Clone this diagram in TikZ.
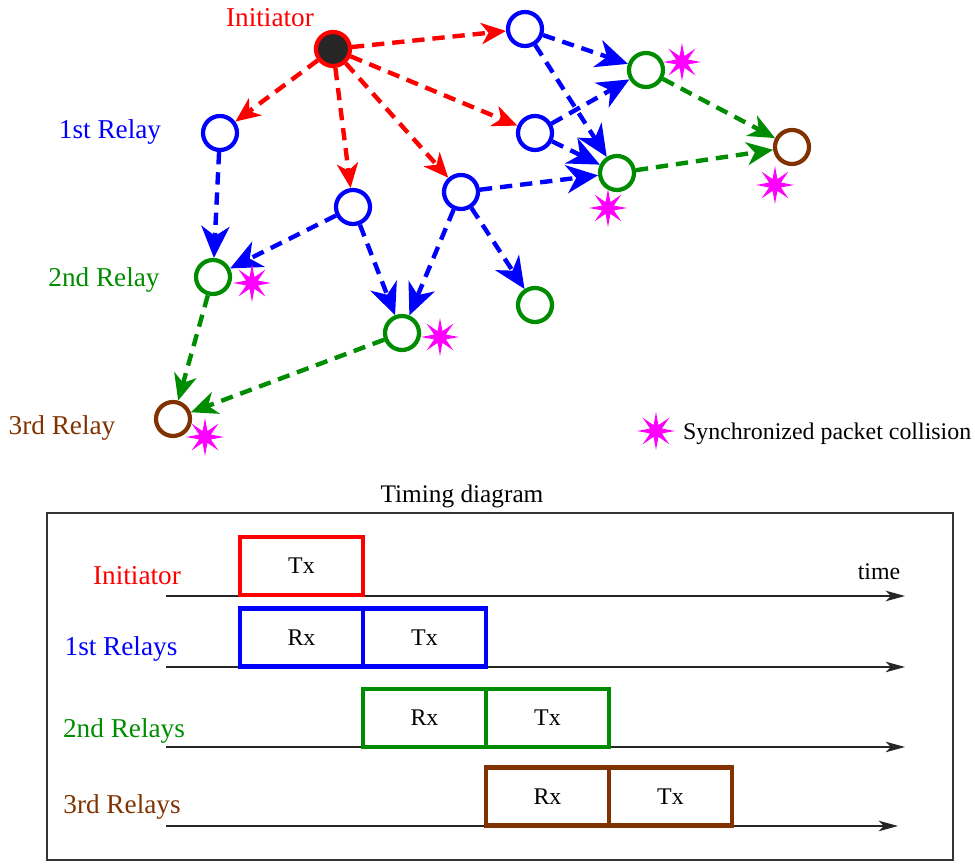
\documentclass[tikz,border=0pt]{standalone}
\usepackage{fontspec}
\setmainfont{Liberation Serif}
\usetikzlibrary{arrows.meta,shapes.geometric}
\definecolor{relgreen}{RGB}{0,140,0}
\definecolor{relbrown}{RGB}{128,51,0}
\definecolor{clashpink}{RGB}{255,0,255}
\tikzset{
	relay/.style={circle, draw=#1, line width=2.4pt, minimum size=0.68cm, inner sep=0pt, fill=white},
	hop/.style={draw=#1, line width=2.5pt, dash pattern=on 7pt off 4.5pt, -{Stealth[length=18pt,width=16pt,inset=5.5pt]}},
	smallhop/.style={hop=#1, -{Stealth[length=14pt,width=12pt,inset=4pt]}},
	midhop/.style={hop=#1, -{Stealth[length=15pt,width=13pt,inset=4.5pt]}},
	clash/.style={star, star points=8, star point ratio=3, fill=clashpink, minimum size=0.76cm, inner sep=0pt},
	slot/.style={draw=#1, line width=2.3pt, minimum width=2.46cm, minimum height=1.16cm, inner sep=0pt, font=\fontsize{13.6}{16}\selectfont},
	biglabel/.style={text=#1, font=\fontsize{15.5}{18}\selectfont, anchor=base},
	smalllabel/.style={font=\fontsize{13.6}{16}\selectfont, anchor=base},
	timeline/.style={black!85, line width=0.7pt, -{Stealth[length=11pt,width=6pt,inset=3pt]}},
}

\begin{document}
\begin{tikzpicture}[x=0.02cm, y=-0.02cm]
			%%%%% START %%%%%
			\useasboundingbox (0,0) rectangle (975,864);
			
			% network
			\node[relay=red, fill=black!85] (init) at (333,49) {};
			\node[relay=blue] (b1) at (525,29) {};
			\node[relay=blue] (b2) at (220,133) {};
			\node[relay=blue] (b3) at (535,133) {};
			\node[relay=blue] (b4) at (353,207) {};
			\node[relay=blue] (b5) at (461,192) {};
			\node[relay=relgreen] (g1) at (646,70) {};
			\node[relay=relgreen] (g2) at (617,173) {};
			\node[relay=relgreen] (g3) at (213,277) {};
			\node[relay=relgreen] (g4) at (402,333) {};
			\node[relay=relgreen] (g5) at (535,305) {};
			\node[relay=relbrown] (r1) at (792,147) {};
			\node[relay=relbrown] (r2) at (173,419) {};
			
			\draw[smallhop=red] (init) -- (b1);
			\draw[smallhop=red] (init) -- (b2);
			\draw[smallhop=red] (init) -- (b3);
			\draw[smallhop=red] (init) -- (b4);
			\draw[smallhop=red] (init) -- (b5);
			
			\draw[hop=blue] (b1) -- (g1);
			\draw[hop=blue] (b1) -- (g2);
			\draw[hop=blue] (b3) -- (g1);
			\draw[hop=blue] (b3) -- (g2);
			\draw[hop=blue] (b5) -- (g2);
			\draw[hop=blue] (b2) -- (g3);
			\draw[hop=blue] (b4) -- (g3);
			\draw[hop=blue] (b4) -- (g4);
			\draw[hop=blue] (b5) -- (g4);
			\draw[hop=blue] (b5) -- (g5);
			
			\draw[midhop=relgreen] (g1) -- (r1);
			\draw[midhop=relgreen] (g2) -- (r1);
			\draw[midhop=relgreen] (g3) -- (r2);
			\draw[midhop=relgreen] (g4) -- (r2);
			
			\node[clash] (c1) at (682,62) {};
			\node[clash] (c2) at (608,208) {};
			\node[clash] (c3) at (775,185) {};
			\node[clash] (c4) at (252,283) {};
			\node[clash] (c5) at (440,337) {};
			\node[clash] (c6) at (205,437) {};
			
			\node[biglabel=red] (linit) at (270,27) {Initiator};
			\node[biglabel=blue] (lfirst) at (110,139) {1st Relay};
			\node[biglabel=relgreen] (lsecond) at (104,287) {2nd Relay};
			\node[biglabel=relbrown] (lthird) at (62,435) {3rd Relay};
			
			% legend
			\node[clash] (ckey) at (656,431) {};
			\node[smalllabel, anchor=base west] (lkey) at (677,440) {Synchronized packet collision};
			
			% timing diagram
			\node[smalllabel, font=\fontsize{14.4}{17}\selectfont] (ttitle) at (462,503) {Timing diagram};
			\draw[line width=0.6pt, black!80] (47,513) rectangle (953,860);
			
			\foreach \y/\e in {596/905, 667/905, 747/905, 826/898}
				\draw[timeline] (166,\y) -- (\e,\y);
			\node[smalllabel] (ltime) at (879,580) {time};
			
			\node[slot=red] (itx) at (301.5,566) {Tx};
			\node[slot=blue] (frx) at (301.5,637.5) {Rx};
			\node[slot=blue] (ftx) at (424.5,637.5) {Tx};
			\node[slot=relgreen] (srx) at (424.5,718) {Rx};
			\node[slot=relgreen] (stx) at (547.5,718) {Tx};
			\node[slot=relbrown] (trx) at (547.5,796.5) {Rx};
			\node[slot=relbrown] (ttx) at (670.5,796.5) {Tx};
			
			\node[biglabel=red] (tinit) at (137,585) {Initiator};
			\node[biglabel=blue] (tfirst) at (121,656) {1st Relays};
			\node[biglabel=relgreen] (tsecond) at (124,738) {2nd Relays};
			\node[biglabel=relbrown] (tthird) at (122,814) {3rd Relays};
			%%%%% END %%%%%
\end{tikzpicture}
\end{document}
